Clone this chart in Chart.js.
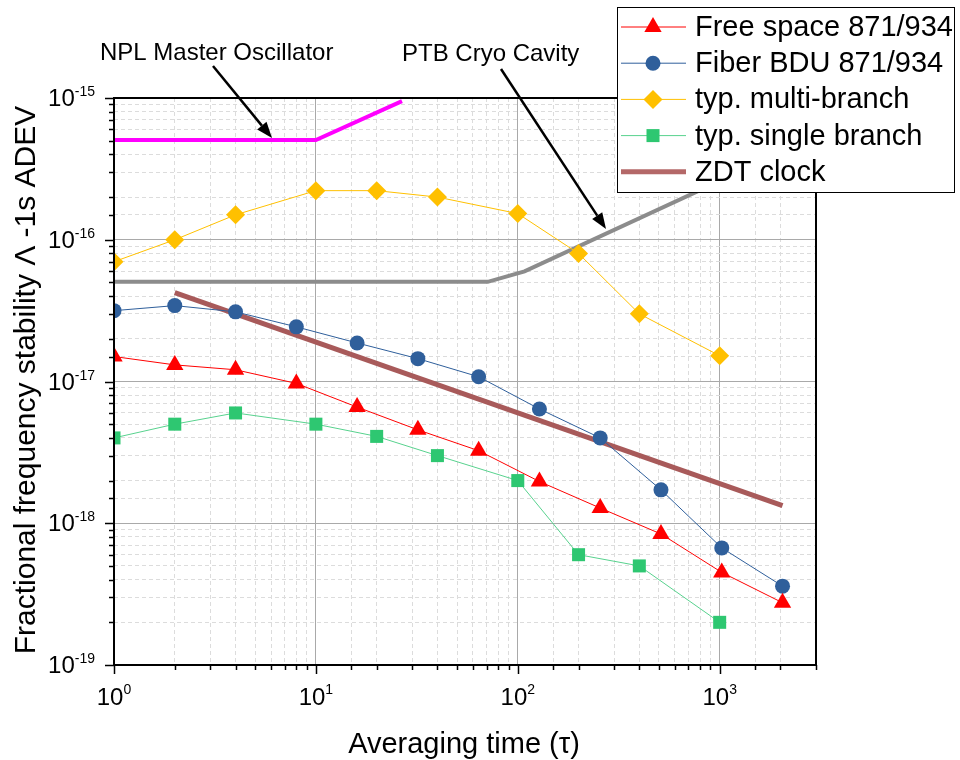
<!DOCTYPE html>
<html>
<head>
<meta charset="utf-8">
<script src="https://cdn.jsdelivr.net/npm/chart.js@4.4.1/dist/chart.umd.min.js"></script>
<style>
  html, body { margin: 0; padding: 0; background: #fff; }
  #wrap { width: 960px; height: 760px; }
</style>
</head>
<body>
<div id="wrap"><canvas id="chart" width="960" height="760"></canvas></div>
<script>
// Averaging times (s)
const tauPow2 = [1, 2, 4, 8, 16, 32, 64, 128, 256, 512, 1024, 2048];
const tauTyp = [1, 2, 4, 10, 20, 40, 100, 200, 400, 1000];

// Fractional frequency stability
const freeSpace = [1.5e-17, 1.31e-17, 1.21e-17, 9.7e-18, 6.6e-18, 4.56e-18, 3.25e-18, 1.97e-18, 1.28e-18, 8.4e-19, 4.5e-19, 2.75e-19];
const fiberBDU = [3.16e-17, 3.43e-17, 3.1e-17, 2.43e-17, 1.87e-17, 1.45e-17, 1.08e-17, 6.4e-18, 4.0e-18, 1.72e-18, 6.7e-19, 3.6e-19];
const multiBranch = [7.0e-17, 1.0e-16, 1.5e-16, 2.22e-16, 2.22e-16, 2.0e-16, 1.53e-16, 8.0e-17, 3.0e-17, 1.52e-17];
const singleBranch = [4.0e-18, 5.0e-18, 6.0e-18, 5.0e-18, 4.1e-18, 3.0e-18, 2.0e-18, 6.0e-19, 5.0e-19, 2.0e-19];

const zdtTau = [2, 2048];
const zdtClock = [4.24e-17, 1.33e-18];

// reference oscillators
const nplTau = [1, 10, 26.7];
const nplOsc = [5.05e-16, 5.05e-16, 9.5e-16];
const ptbTau = [1, 71, 108, 3000];
const ptbCavity = [5.05e-17, 5.05e-17, 5.98e-17, 5.35e-16];

// tick label exponents
const xTickExps = [0, 1, 2, 3];
const yTickExps = [-19, -18, -17, -16, -15];

const FONT = '"Liberation Sans", Arial, Helvetica, sans-serif';

const pts = (xs, ys) => xs.map((x, i) => ({ x: x, y: ys[i] }));

function isMajor(v) {
    if (!(v > 0)) return false;
    const e = Math.floor(Math.log10(v) + 1e-9);
    return Math.abs(v / Math.pow(10, e) - 1) < 1e-6;
}

function drawMarker(ctx, style, x, y, r, color) {
    ctx.save();
    ctx.fillStyle = color;
    ctx.beginPath();
    if (style === 'triangle') {
        for (let k = 0; k < 3; k++) {
            const a = k * 2 * Math.PI / 3;
            const px = x + Math.sin(a) * r, py = y - Math.cos(a) * r;
            if (k === 0) ctx.moveTo(px, py); else ctx.lineTo(px, py);
        }
        ctx.closePath();
    } else if (style === 'circle') {
        ctx.arc(x, y, r, 0, Math.PI * 2);
    } else if (style === 'rectRot') {
        ctx.moveTo(x, y - r); ctx.lineTo(x + r, y); ctx.lineTo(x, y + r); ctx.lineTo(x - r, y);
        ctx.closePath();
    } else if (style === 'rect') {
        const s = r * Math.SQRT1_2;
        ctx.rect(x - s, y - s, 2 * s, 2 * s);
    }
    ctx.fill();
    ctx.restore();
}

function drawArrow(ctx, x1, y1, x2, y2) {
    const ang = Math.atan2(y2 - y1, x2 - x1);
    const hl = 16, hw = 6;
    const bx = x2 - Math.cos(ang) * hl, by = y2 - Math.sin(ang) * hl;
    ctx.save();
    ctx.strokeStyle = '#000';
    ctx.fillStyle = '#000';
    ctx.lineWidth = 2.5;
    ctx.beginPath();
    ctx.moveTo(x1, y1);
    ctx.lineTo(bx, by);
    ctx.stroke();
    ctx.beginPath();
    ctx.moveTo(x2, y2);
    ctx.lineTo(bx + Math.sin(ang) * hw, by - Math.cos(ang) * hw);
    ctx.lineTo(bx - Math.sin(ang) * hw, by + Math.cos(ang) * hw);
    ctx.closePath();
    ctx.fill();
    ctx.restore();
}

function drawPow10(ctx, exp, x, baseY, expY, align) {
    ctx.font = '24px ' + FONT;
    const wb = ctx.measureText('10').width;
    ctx.font = '14px ' + FONT;
    const es = String(exp);
    const we = ctx.measureText(es).width;
    const total = wb + we;
    let left = align === 'right' ? x - total : x - total / 2;
    ctx.textAlign = 'left';
    ctx.textBaseline = 'alphabetic';
    ctx.font = '24px ' + FONT;
    ctx.fillText('10', left, baseY);
    ctx.font = '14px ' + FONT;
    ctx.fillText(es, left + wb, expY);
}

const decor = {
    id: 'decor',
    afterDraw(chart) {
        const ctx = chart.ctx;
        const a = chart.chartArea;
        const xs = chart.scales.x, ys = chart.scales.y;
        ctx.save();

        // frame
        ctx.strokeStyle = '#000';
        ctx.lineWidth = 2;
        ctx.strokeRect(a.left, a.top, a.right - a.left, a.bottom - a.top);

        // outward ticks
        ctx.lineWidth = 1.5;
        ctx.beginPath();
        xs.ticks.forEach(t => {
            const p = Math.round(xs.getPixelForValue(t.value)) + 0.5;
            const len = isMajor(t.value) ? 9 : 5;
            ctx.moveTo(p, a.bottom);
            ctx.lineTo(p, a.bottom + len);
        });
        ys.ticks.forEach(t => {
            const p = Math.round(ys.getPixelForValue(t.value)) + 0.5;
            const len = isMajor(t.value) ? 9 : 5;
            ctx.moveTo(a.left, p);
            ctx.lineTo(a.left - len, p);
        });
        ctx.stroke();

        // tick labels
        ctx.fillStyle = '#000';
        xTickExps.forEach(e => {
            const px = xs.getPixelForValue(Math.pow(10, e));
            drawPow10(ctx, e, px, a.bottom + 40, a.bottom + 29, 'center');
        });
        yTickExps.forEach(e => {
            const py = ys.getPixelForValue(Math.pow(10, e));
            drawPow10(ctx, e, a.left - 19, py + 8, py - 2, 'right');
        });

        // axis titles
        ctx.font = '29px ' + FONT;
        ctx.textAlign = 'center';
        ctx.textBaseline = 'alphabetic';
        ctx.fillText('Averaging time (\u03C4)', 464, 753);
        ctx.save();
        ctx.translate(35, 380);
        ctx.rotate(-Math.PI / 2);
        ctx.font = '30px ' + FONT;
        ctx.fillText('Fractional frequency stability \u039B -1s ADEV', 0, 0);
        ctx.restore();

        // annotations
        ctx.font = '24px ' + FONT;
        ctx.textAlign = 'left';
        ctx.fillText('NPL Master Oscillator', 100, 60);
        ctx.fillText('PTB Cryo Cavity', 402, 61);
        drawArrow(ctx, 213, 66, 272, 138);
        drawArrow(ctx, 501, 69, 606, 229);

        // legend
        const lx = 617, ly = 7, lw = 337, lh = 185;
        ctx.fillStyle = '#fff';
        ctx.fillRect(lx, ly, lw, lh);
        ctx.strokeStyle = '#000';
        ctx.lineWidth = 1;
        ctx.strokeRect(lx + 0.5, ly + 0.5, lw, lh);
        chart.data.datasets.slice(0, 5).forEach((ds, i) => {
            const y = 27 + i * 36.2;
            ctx.strokeStyle = ds.legendLine || ds.borderColor;
            ctx.lineWidth = ds.borderWidth;
            ctx.beginPath();
            ctx.moveTo(621, y);
            ctx.lineTo(686, y);
            ctx.stroke();
            if (ds.pointRadius > 0) {
                drawMarker(ctx, ds.pointStyle, 653, y, ds.pointRadius, ds.pointBackgroundColor);
            }
            ctx.fillStyle = '#000';
            ctx.font = '29px ' + FONT;
            ctx.textBaseline = 'middle';
            ctx.fillText(ds.label, 695, y + 1);
        });
        ctx.restore();
    }
};

const gridOpts = {
    color: c => (c.tick && isMajor(c.tick.value)) ? '#a9a9a9' : '#dcdcdc',
    lineWidth: 1,
    drawTicks: false
};
const borderOpts = {
    display: false,
    dash: c => (c.tick && isMajor(c.tick.value)) ? [] : [4, 3]
};

new Chart(document.getElementById('chart').getContext('2d'), {
    type: 'scatter',
    data: {
        datasets: [
            {
                label: 'Free space 871/934', data: pts(tauPow2, freeSpace), showLine: true,
                borderColor: '#ff0000', borderWidth: 1, pointStyle: 'triangle', pointRadius: 10,
                pointBackgroundColor: '#ff0000', pointBorderWidth: 0
            },
            {
                label: 'Fiber BDU 871/934', data: pts(tauPow2, fiberBDU), showLine: true,
                borderColor: '#2f5f9b', borderWidth: 1, pointStyle: 'circle', pointRadius: 7.5,
                pointBackgroundColor: '#2f5f9b', pointBorderWidth: 0
            },
            {
                label: 'typ. multi-branch', data: pts(tauTyp, multiBranch), showLine: true,
                borderColor: '#ffc000', borderWidth: 1, pointStyle: 'rectRot', pointRadius: 9.5,
                pointBackgroundColor: '#ffc000', pointBorderWidth: 0
            },
            {
                label: 'typ. single branch', data: pts(tauTyp, singleBranch), showLine: true,
                borderColor: '#58d28e', borderWidth: 1, pointStyle: 'rect', pointRadius: 9.2,
                pointBackgroundColor: '#2ec771', pointBorderWidth: 0
            },
            {
                label: 'ZDT clock', data: pts(zdtTau, zdtClock), showLine: true,
                borderColor: '#a85a5a', borderWidth: 5, pointRadius: 0, legendLine: '#b46868'
            },
            {
                label: 'NPL Master Oscillator', data: pts(nplTau, nplOsc), showLine: true,
                borderColor: '#ff00ff', borderWidth: 4, pointRadius: 0
            },
            {
                label: 'PTB Cryo Cavity', data: pts(ptbTau, ptbCavity), showLine: true,
                borderColor: '#8c8c8c', borderWidth: 4, pointRadius: 0
            }
        ]
    },
    options: {
        responsive: false,
        animation: false,
        layout: { padding: { left: 114, right: 144, top: 98, bottom: 95 } },
        plugins: {
            legend: { display: false },
            tooltip: { enabled: false }
        },
        scales: {
            x: {
                type: 'logarithmic', min: 1, max: 3000,
                grid: gridOpts, border: borderOpts,
                ticks: { display: false, autoSkip: false },
                afterFit: s => { s.height = 0; }
            },
            y: {
                type: 'logarithmic', min: 1e-19, max: 1e-15,
                grid: gridOpts, border: borderOpts,
                ticks: { display: false, autoSkip: false },
                afterFit: s => { s.width = 0; }
            }
        }
    },
    plugins: [decor]
});
</script>
</body>
</html>
